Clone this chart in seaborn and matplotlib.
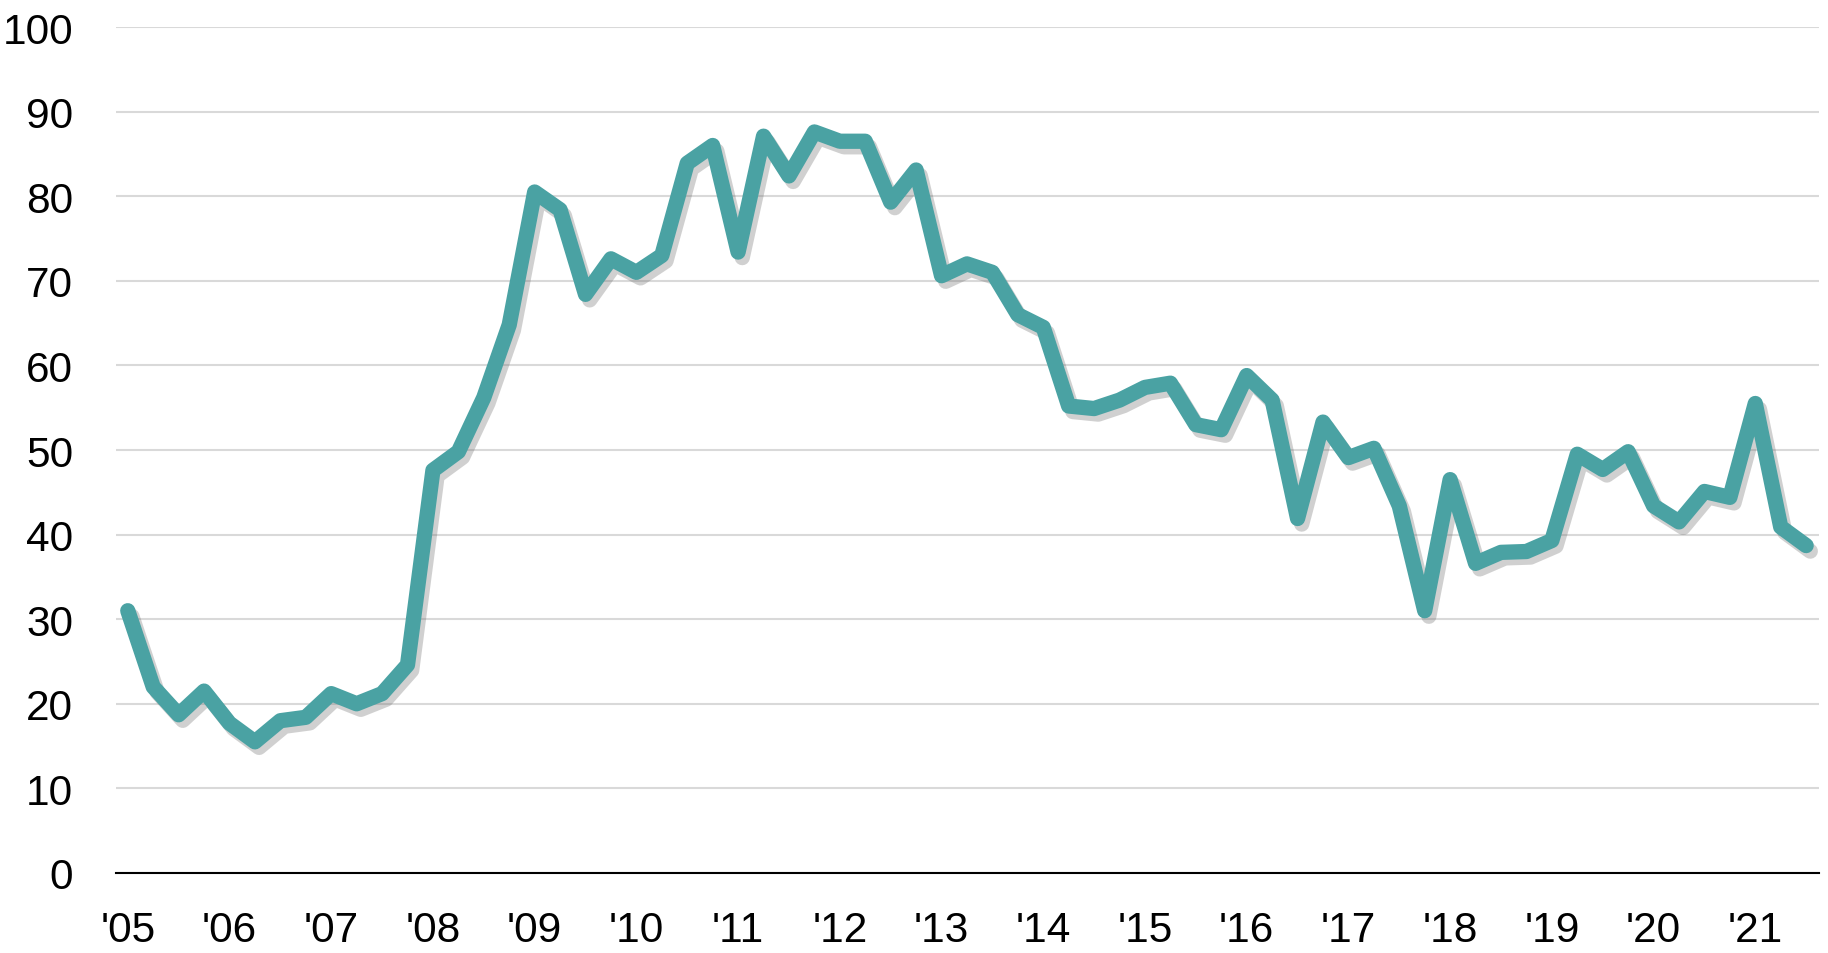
import matplotlib
matplotlib.use("Agg")
import matplotlib.pyplot as plt
import matplotlib.patheffects as pe
import pandas as pd
import seaborn as sns

# quarterly values, 2005 Q1 .. 2021 Q3
values = [
    31.0, 22.0, 18.7, 21.5,   # 2005
    17.7, 15.5, 18.0, 18.4,   # 2006
    21.2, 20.0, 21.2, 24.6,   # 2007
    47.6, 49.8, 56.2, 64.8,   # 2008
    80.5, 78.4, 68.4, 72.6,   # 2009
    71.0, 73.0, 83.9, 86.0,   # 2010
    73.4, 87.1, 82.4, 87.6,   # 2011
    86.5, 86.5, 79.3, 83.1,   # 2012
    70.6, 72.0, 71.0, 66.0,   # 2013
    64.5, 55.2, 54.9, 55.9,   # 2014
    57.4, 57.9, 53.0, 52.4,   # 2015
    58.8, 55.9, 41.9, 53.3,   # 2016
    49.1, 50.2, 43.4, 31.0,   # 2017
    46.5, 36.6, 37.9, 38.0,   # 2018
    39.3, 49.5, 47.7, 49.8,   # 2019
    43.4, 41.5, 45.1, 44.4,   # 2020
    55.5, 40.9, 38.7,         # 2021
]
year_labels = ["'05", "'06", "'07", "'08", "'09", "'10", "'11", "'12", "'13",
               "'14", "'15", "'16", "'17", "'18", "'19", "'20", "'21"]
y_ticks = [0, 10, 20, 30, 40, 50, 60, 70, 80, 90, 100]

df = pd.DataFrame({"quarter": range(len(values)), "value": values})

sns.set_theme(style="white")
plt.rcParams["font.family"] = ["Liberation Sans", "DejaVu Sans"]

fig = plt.figure(figsize=(18.28, 9.54), dpi=100)
ax = fig.add_axes([0.0635, 0.0839, 0.9315, 0.8867])

sns.lineplot(data=df, x="quarter", y="value", ax=ax, color="#4AA2A3",
             linewidth=11, solid_joinstyle="round", solid_capstyle="round")
ax.lines[0].set_path_effects([
    pe.SimpleLineShadow(offset=(3, -4), shadow_color="#666666", alpha=0.3),
    pe.Normal(),
])

ax.set_xlim(-0.46, 66.5)
ax.set_ylim(0, 100)
ax.set_yticks(y_ticks)
ax.set_xticks([i * 4 for i in range(len(year_labels))])
ax.set_xticklabels(year_labels)
ax.set_xlabel("")
ax.set_ylabel("")

ax.grid(axis="y", color="#D9D9D9", linewidth=1.5)
ax.set_axisbelow(True)
for side in ["left", "right", "top"]:
    ax.spines[side].set_visible(False)
ax.spines["bottom"].set_color("black")
ax.spines["bottom"].set_linewidth(1.5)

ax.tick_params(axis="y", length=0, pad=31, labelsize=30.5, labelcolor="black")
ax.tick_params(axis="x", length=0, pad=27, labelsize=30.5, labelcolor="black")

fig.savefig("out.png", dpi=100)
